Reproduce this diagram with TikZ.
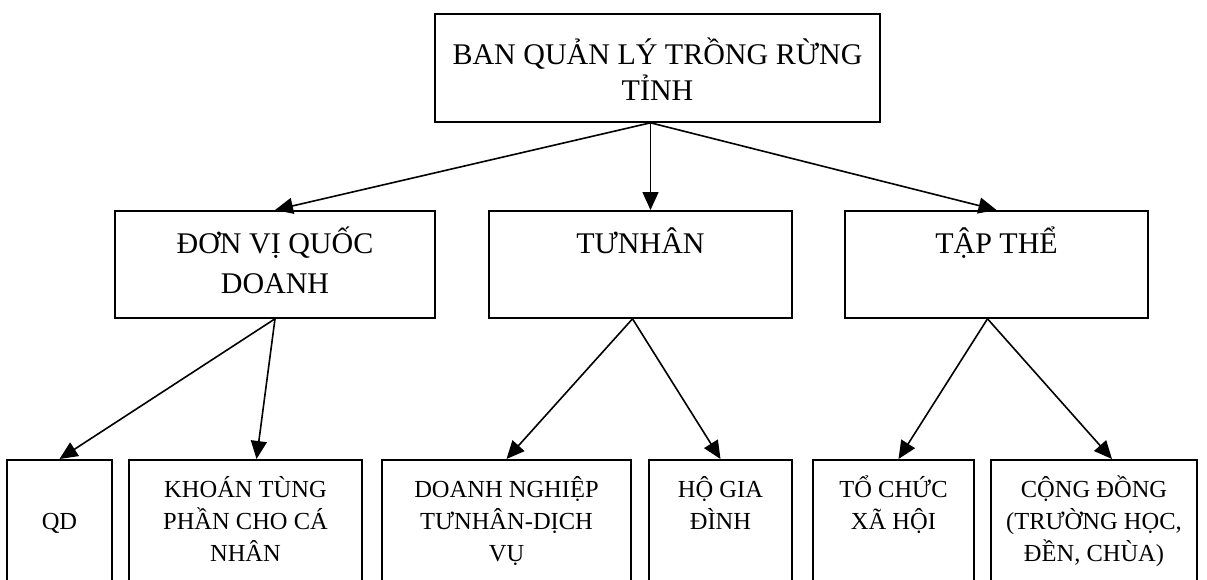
\documentclass[tikz,border=0pt]{standalone}
\usepackage{fontspec}
\setmainfont{Liberation Serif}
\usetikzlibrary{arrows.meta,positioning}

\begin{document}
\begin{tikzpicture}[x=1pt,y=-1pt,
  box/.style={draw,line width=1.8pt,anchor=north,align=center,inner xsep=0pt,inner ysep=0pt},
  head/.style={box,font=\fontsize{30pt}{36pt}\selectfont,text height=87pt,text depth=21pt},
  mid/.style={box,font=\fontsize{30pt}{40pt}\selectfont,text height=43pt,text depth=64pt},
  midtwo/.style={mid,text height=83pt,text depth=24pt},
  low/.style={box,font=\fontsize{24.5pt}{32pt}\selectfont,text height=70pt,text depth=80pt},
  lowthree/.style={low,text height=102pt,text depth=48pt},
  link/.style={-{Triangle[length=18pt,width=16pt]},line width=1.6pt}]
  \useasboundingbox (0,0) rectangle (1207,579);

	\node[head,minimum width=445pt] (ban) at (657.5,13) {BAN QUẢN LÝ TRỒNG RỪNG\\TỈNH};

	\node[midtwo,minimum width=320pt] (dv) at (275,210) {ĐƠN VỊ QUỐC\\DOANH};
	\node[mid,minimum width=303pt] (tn) at (640.5,210) {TƯNHÂN};
	\node[mid,minimum width=303pt] (tt) at (996.5,210) {TẬP THỂ};

	\node[low,minimum width=105pt] (qd) at (59.5,459) {QD};
	\node[lowthree,minimum width=233pt] (kh) at (245.5,459) {KHOÁN TÙNG\\PHẦN CHO CÁ\\NHÂN};
	\node[lowthree,minimum width=249pt] (dn) at (506.5,459) {DOANH NGHIỆP\\TƯNHÂN-DỊCH\\VỤ};
	\node[low,minimum width=143pt] (hg) at (720.5,459) {HỘ GIA\\ĐÌNH};
	\node[low,minimum width=161pt] (tc) at (893.5,459) {TỔ CHỨC\\XÃ HỘI};
	\node[lowthree,minimum width=206pt] (cd) at (1094,459) {CỘNG ĐỒNG\\(TRƯỜNG HỌC,\\ĐỀN, CHÙA)};

	\coordinate (hub) at ([xshift=-7pt]ban.south);

	\path[link]

	(hub) edge (dv.north)
	      edge (hub |- tn.north)
	      edge (tt.north)

	(dv.south) edge (qd.north)
	           edge ([xshift=11pt]kh.north)

	([xshift=-8pt]tn.south) edge (dn.north)
	                        edge (hg.north)

	([xshift=-9pt]tt.south) edge ([xshift=5pt]tc.north)
	                        edge ([xshift=18pt]cd.north);

\end{tikzpicture}
\end{document}
